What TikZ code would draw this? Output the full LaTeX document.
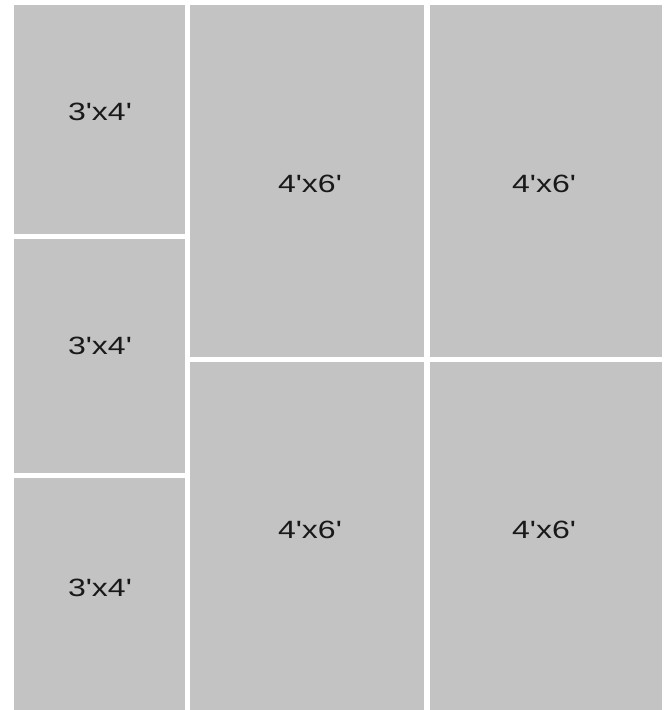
\documentclass[tikz,border=0pt]{standalone}
\usepackage{fontspec}
\setmainfont{Liberation Sans}
\definecolor{panel}{RGB}{195,195,195}
\newcommand{\sq}{\textquotesingle}
\tikzset{
  panel/.style={fill=panel, draw=none},
  lbl/.style={inner sep=0pt, font=\fontsize{25}{30}\selectfont, xscale=1.28, text=black!90}
}
\begin{document}
\begin{tikzpicture}[x=1pt,y=-1pt]
\useasboundingbox[fill=white] (0,0) rectangle (668,710);
\fill[panel] (14,5) rectangle (185,234);
\fill[panel] (14,239) rectangle (185,473);
\fill[panel] (14,478) rectangle (185,710);
\fill[panel] (190,5) rectangle (424,357);
\fill[panel] (190,362) rectangle (424,710);
\fill[panel] (430,5) rectangle (662,357);
\fill[panel] (430,362) rectangle (662,710);
\node[lbl] (l1) at (100,112) {3\sq x4\sq};
\node[lbl] (l2) at (100,346) {3\sq x4\sq};
\node[lbl] (l3) at (100,588) {3\sq x4\sq};
\node[lbl] (m1) at (310,184) {4\sq x6\sq};
\node[lbl] (m2) at (310,530) {4\sq x6\sq};
\node[lbl] (r1) at (544,184) {4\sq x6\sq};
\node[lbl] (r2) at (544,530) {4\sq x6\sq};
\end{tikzpicture}
\end{document}
